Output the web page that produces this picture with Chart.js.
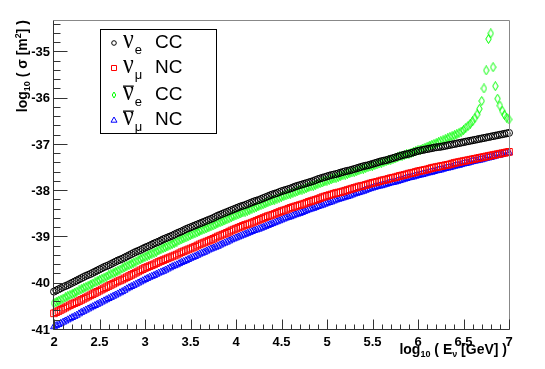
<!DOCTYPE html>
<html>
<head>
<meta charset="utf-8">
<script src="https://cdn.jsdelivr.net/npm/chart.js@4.4.0/dist/chart.umd.min.js"></script>
<style>
  html, body { margin: 0; padding: 0; background: #fff; }
  #wrap { width: 545px; height: 369px; }
</style>
</head>
<body>
<div id="wrap"><canvas id="xsecChart"></canvas></div>
<script>
// log10(E_nu / GeV)
var xVals = [2.000,2.025,2.050,2.075,2.100,2.125,2.150,2.175,2.200,2.225,2.250,2.275,2.300,2.325,2.350,2.375,2.400,2.425,2.450,2.475,
  2.500,2.525,2.550,2.575,2.600,2.625,2.650,2.675,2.700,2.725,2.750,2.775,2.800,2.825,2.850,2.875,2.900,2.925,2.950,2.975,
  3.000,3.025,3.050,3.075,3.100,3.125,3.150,3.175,3.200,3.225,3.250,3.275,3.300,3.325,3.350,3.375,3.400,3.425,3.450,3.475,
  3.500,3.525,3.550,3.575,3.600,3.625,3.650,3.675,3.700,3.725,3.750,3.775,3.800,3.825,3.850,3.875,3.900,3.925,3.950,3.975,
  4.000,4.025,4.050,4.075,4.100,4.125,4.150,4.175,4.200,4.225,4.250,4.275,4.300,4.325,4.350,4.375,4.400,4.425,4.450,4.475,
  4.500,4.525,4.550,4.575,4.600,4.625,4.650,4.675,4.700,4.725,4.750,4.775,4.800,4.825,4.850,4.875,4.900,4.925,4.950,4.975,
  5.000,5.025,5.050,5.075,5.100,5.125,5.150,5.175,5.200,5.225,5.250,5.275,5.300,5.325,5.350,5.375,5.400,5.425,5.450,5.475,
  5.500,5.525,5.550,5.575,5.600,5.625,5.650,5.675,5.700,5.725,5.750,5.775,5.800,5.825,5.850,5.875,5.900,5.925,5.950,5.975,
  6.000,6.025,6.050,6.075,6.100,6.125,6.150,6.175,6.200,6.225,6.250,6.275,6.300,6.325,6.350,6.375,6.400,6.425,6.450,6.475,
  6.500,6.525,6.550,6.575,6.600,6.625,6.650,6.675,6.700,6.725,6.750,6.775,6.800,6.825,6.850,6.875,6.900,6.925,6.950,6.975,
  7.000];

// log10(sigma / m^2) for nu_e CC
var nueCC = [-40.17,-40.145,-40.12,-40.095,-40.07,-40.05,-40.03,-40.005,-39.98,-39.955,-39.93,-39.905,-39.88,-39.855,-39.83,-39.81,-39.79,-39.765,-39.74,-39.715,
  -39.69,-39.665,-39.64,-39.62,-39.60,-39.575,-39.55,-39.525,-39.50,-39.48,-39.46,-39.435,-39.41,-39.385,-39.36,-39.335,-39.31,-39.29,-39.27,-39.245,
  -39.22,-39.20,-39.18,-39.155,-39.13,-39.11,-39.09,-39.065,-39.04,-39.02,-39.00,-38.98,-38.96,-38.935,-38.91,-38.89,-38.87,-38.845,-38.82,-38.80,
  -38.78,-38.76,-38.74,-38.72,-38.70,-38.68,-38.66,-38.64,-38.62,-38.60,-38.58,-38.555,-38.53,-38.51,-38.49,-38.47,-38.45,-38.43,-38.41,-38.39,
  -38.37,-38.35,-38.33,-38.315,-38.30,-38.28,-38.26,-38.24,-38.22,-38.205,-38.19,-38.17,-38.15,-38.13,-38.11,-38.09,-38.07,-38.055,-38.04,-38.02,
  -38.00,-37.985,-37.97,-37.955,-37.94,-37.92,-37.90,-37.885,-37.87,-37.855,-37.84,-37.825,-37.81,-37.795,-37.78,-37.76,-37.74,-37.725,-37.71,-37.695,
  -37.68,-37.665,-37.65,-37.64,-37.63,-37.615,-37.60,-37.585,-37.57,-37.56,-37.55,-37.535,-37.52,-37.505,-37.49,-37.475,-37.46,-37.45,-37.44,-37.425,
  -37.41,-37.395,-37.38,-37.365,-37.35,-37.34,-37.33,-37.315,-37.30,-37.285,-37.27,-37.255,-37.24,-37.225,-37.21,-37.20,-37.19,-37.175,-37.16,-37.145,
  -37.13,-37.12,-37.11,-37.10,-37.09,-37.08,-37.07,-37.06,-37.05,-37.045,-37.04,-37.03,-37.02,-37.01,-37.00,-36.99,-36.98,-36.97,-36.96,-36.95,
  -36.94,-36.93,-36.92,-36.91,-36.90,-36.89,-36.88,-36.87,-36.86,-36.85,-36.84,-36.83,-36.82,-36.81,-36.80,-36.79,-36.78,-36.77,-36.76,-36.75,
  -36.74];

// nu_mu NC
var numuNC = [-40.64,-40.615,-40.59,-40.565,-40.54,-40.515,-40.49,-40.465,-40.44,-40.42,-40.40,-40.375,-40.35,-40.325,-40.30,-40.275,-40.25,-40.225,-40.20,-40.175,
  -40.15,-40.125,-40.10,-40.075,-40.05,-40.025,-40.00,-39.975,-39.95,-39.93,-39.91,-39.885,-39.86,-39.835,-39.81,-39.785,-39.76,-39.735,-39.71,-39.685,
  -39.66,-39.64,-39.62,-39.60,-39.58,-39.555,-39.53,-39.51,-39.49,-39.47,-39.45,-39.43,-39.41,-39.39,-39.37,-39.345,-39.32,-39.30,-39.28,-39.26,
  -39.24,-39.22,-39.20,-39.175,-39.15,-39.13,-39.11,-39.09,-39.07,-39.05,-39.03,-39.005,-38.98,-38.96,-38.94,-38.92,-38.90,-38.875,-38.85,-38.83,
  -38.81,-38.79,-38.77,-38.75,-38.73,-38.715,-38.70,-38.68,-38.66,-38.64,-38.62,-38.60,-38.58,-38.56,-38.54,-38.525,-38.51,-38.49,-38.47,-38.45,
  -38.43,-38.415,-38.40,-38.38,-38.36,-38.345,-38.33,-38.315,-38.30,-38.285,-38.27,-38.25,-38.23,-38.215,-38.20,-38.185,-38.17,-38.15,-38.13,-38.115,
  -38.10,-38.085,-38.07,-38.055,-38.04,-38.03,-38.02,-38.005,-37.99,-37.975,-37.96,-37.945,-37.93,-37.915,-37.90,-37.89,-37.88,-37.865,-37.85,-37.835,
  -37.82,-37.81,-37.80,-37.785,-37.77,-37.76,-37.75,-37.735,-37.72,-37.71,-37.70,-37.685,-37.67,-37.66,-37.65,-37.635,-37.62,-37.61,-37.60,-37.585,
  -37.57,-37.56,-37.55,-37.54,-37.53,-37.515,-37.50,-37.49,-37.48,-37.47,-37.46,-37.45,-37.44,-37.43,-37.42,-37.405,-37.39,-37.38,-37.37,-37.36,
  -37.35,-37.34,-37.33,-37.32,-37.31,-37.30,-37.29,-37.28,-37.27,-37.26,-37.25,-37.24,-37.23,-37.22,-37.21,-37.20,-37.19,-37.18,-37.17,-37.16,
  -37.15];

// anti-nu_e CC (Glashow resonance near 6.8)
var nuebarCC = [-40.42,-40.395,-40.37,-40.345,-40.32,-40.295,-40.27,-40.245,-40.22,-40.195,-40.17,-40.145,-40.12,-40.095,-40.07,-40.045,-40.02,-39.995,-39.97,-39.945,
  -39.92,-39.895,-39.87,-39.845,-39.82,-39.795,-39.77,-39.745,-39.72,-39.695,-39.67,-39.645,-39.62,-39.595,-39.57,-39.545,-39.52,-39.495,-39.47,-39.445,
  -39.42,-39.395,-39.37,-39.35,-39.33,-39.305,-39.28,-39.255,-39.23,-39.21,-39.19,-39.165,-39.14,-39.115,-39.09,-39.065,-39.04,-39.02,-39.00,-38.975,
  -38.95,-38.93,-38.91,-38.885,-38.86,-38.84,-38.82,-38.80,-38.78,-38.76,-38.74,-38.715,-38.69,-38.67,-38.65,-38.63,-38.61,-38.585,-38.56,-38.54,
  -38.52,-38.50,-38.48,-38.46,-38.44,-38.42,-38.40,-38.38,-38.36,-38.34,-38.32,-38.30,-38.28,-38.26,-38.24,-38.22,-38.20,-38.18,-38.16,-38.14,
  -38.12,-38.105,-38.09,-38.07,-38.05,-38.035,-38.02,-38.00,-37.98,-37.965,-37.95,-37.93,-37.91,-37.895,-37.88,-37.86,-37.84,-37.825,-37.81,-37.79,
  -37.77,-37.755,-37.74,-37.725,-37.71,-37.69,-37.67,-37.655,-37.64,-37.625,-37.61,-37.595,-37.58,-37.565,-37.55,-37.53,-37.51,-37.495,-37.48,-37.465,
  -37.45,-37.435,-37.42,-37.40,-37.38,-37.365,-37.35,-37.335,-37.32,-37.305,-37.29,-37.27,-37.25,-37.235,-37.22,-37.205,-37.19,-37.17,-37.15,-37.135,
  -37.12,-37.10,-37.08,-37.06,-37.04,-37.02,-37.00,-36.98,-36.96,-36.94,-36.92,-36.90,-36.88,-36.86,-36.83,-36.81,-36.79,-36.77,-36.74,-36.71,
  -36.68,-36.63,-36.59,-36.54,-36.49,-36.42,-36.34,-36.22,-36.05,-35.78,-35.39,-34.71,-34.59,-35.32,-35.73,-36.00,-36.15,-36.26,-36.35,-36.41,
  -36.45];

// anti-nu_mu NC
var numubarNC = [-40.93,-40.905,-40.88,-40.855,-40.83,-40.805,-40.78,-40.755,-40.73,-40.705,-40.68,-40.65,-40.62,-40.595,-40.57,-40.545,-40.52,-40.495,-40.47,-40.445,
  -40.42,-40.395,-40.37,-40.345,-40.32,-40.295,-40.27,-40.245,-40.22,-40.195,-40.17,-40.14,-40.11,-40.085,-40.06,-40.035,-40.01,-39.985,-39.96,-39.935,
  -39.91,-39.885,-39.86,-39.84,-39.82,-39.795,-39.77,-39.75,-39.73,-39.705,-39.68,-39.655,-39.63,-39.61,-39.59,-39.565,-39.54,-39.52,-39.50,-39.475,
  -39.45,-39.43,-39.41,-39.385,-39.36,-39.34,-39.32,-39.295,-39.27,-39.25,-39.23,-39.21,-39.19,-39.165,-39.14,-39.12,-39.10,-39.075,-39.05,-39.03,
  -39.01,-38.99,-38.97,-38.95,-38.93,-38.91,-38.89,-38.87,-38.85,-38.835,-38.82,-38.80,-38.78,-38.76,-38.74,-38.72,-38.70,-38.68,-38.66,-38.64,
  -38.62,-38.60,-38.58,-38.565,-38.55,-38.53,-38.51,-38.495,-38.48,-38.46,-38.44,-38.42,-38.40,-38.385,-38.37,-38.35,-38.33,-38.315,-38.30,-38.28,
  -38.26,-38.245,-38.23,-38.21,-38.19,-38.175,-38.16,-38.145,-38.13,-38.115,-38.10,-38.08,-38.06,-38.045,-38.03,-38.015,-38.00,-37.98,-37.96,-37.945,
  -37.93,-37.915,-37.90,-37.89,-37.88,-37.865,-37.85,-37.835,-37.82,-37.81,-37.80,-37.785,-37.77,-37.755,-37.74,-37.725,-37.71,-37.70,-37.69,-37.675,
  -37.66,-37.65,-37.64,-37.625,-37.61,-37.60,-37.59,-37.575,-37.56,-37.55,-37.54,-37.525,-37.51,-37.50,-37.49,-37.475,-37.46,-37.45,-37.44,-37.425,
  -37.41,-37.40,-37.39,-37.375,-37.36,-37.35,-37.34,-37.33,-37.32,-37.305,-37.29,-37.28,-37.27,-37.255,-37.24,-37.23,-37.22,-37.205,-37.19,-37.18,
  -37.17];

var xTicks = [2, 2.5, 3, 3.5, 4, 4.5, 5, 5.5, 6, 6.5, 7];
var xTickLabels = ['2', '2.5', '3', '3.5', '4', '4.5', '5', '5.5', '6', '6.5', '7'];
var yTicks = [-41, -40, -39, -38, -37, -36, -35];
var yTickLabels = ['-41', '-40', '-39', '-38', '-37', '-36', '-35'];
var seriesLabels = ['νe CC', 'νμ NC', 'ν̄e CC', 'ν̄μ NC'];
var legendSub = ['e', 'μ', 'e', 'μ'];
var legendBar = [false, false, true, true];
var legendKind = ['CC', 'NC', 'CC', 'NC'];

// ROOT style open diamond (marker 27)
function diamondImg(color) {
  var c = document.createElement('canvas');
  c.width = 7; c.height = 10;
  var g = c.getContext('2d');
  g.strokeStyle = color; g.lineWidth = 1;
  g.beginPath();
  g.moveTo(3.5, 0.5); g.lineTo(6.2, 5); g.lineTo(3.5, 9.5); g.lineTo(0.8, 5);
  g.closePath(); g.stroke();
  return c;
}

function pts(xs, ys) {
  return xs.map(function(x, i) { return { x: x, y: ys[i] }; });
}

var sansB = 'Liberation Sans, Arial, sans-serif';

function drawRich(ctx, parts, x, y) {
  parts.forEach(function(p) {
    ctx.font = p.font;
    ctx.fillText(p.t, x, y + (p.dy || 0));
    x += ctx.measureText(p.t).width;
  });
}
function richWidth(ctx, parts) {
  var w = 0;
  parts.forEach(function(p) { ctx.font = p.font; w += ctx.measureText(p.t).width; });
  return w;
}

function legendMarker(ctx, i, x, y) {
  ctx.lineWidth = 1;
  ctx.beginPath();
  if (i === 0) {
    ctx.strokeStyle = '#000';
    ctx.arc(x, y, 2.3, 0, Math.PI * 2);
  } else if (i === 1) {
    ctx.strokeStyle = '#ff0000';
    ctx.rect(x - 2.5, y - 2.5, 5, 5);
  } else if (i === 2) {
    ctx.strokeStyle = '#00ff00';
    ctx.moveTo(x, y - 3); ctx.lineTo(x + 1.8, y); ctx.lineTo(x, y + 3); ctx.lineTo(x - 1.8, y); ctx.closePath();
  } else {
    ctx.strokeStyle = '#0000ff';
    ctx.moveTo(x, y - 3); ctx.lineTo(x + 3, y + 2.2); ctx.lineTo(x - 3, y + 2.2); ctx.closePath();
  }
  ctx.stroke();
}

var rootDecor = {
  id: 'rootDecor',
  afterDraw: function(chart) {
    var ctx = chart.ctx, a = chart.chartArea, xs = chart.scales.x, ys = chart.scales.y;
    var L = Math.round(a.left) - 0.5, R = Math.round(a.right) + 0.5;
    var T = Math.round(a.top) + 0.5, B = Math.round(a.bottom) - 0.5;
    ctx.save();
    ctx.lineWidth = 1;

    // frame
    ctx.strokeStyle = '#888';
    ctx.beginPath(); ctx.moveTo(L, T); ctx.lineTo(R, T); ctx.lineTo(R, B); ctx.stroke();
    ctx.strokeStyle = '#333';
    ctx.beginPath(); ctx.moveTo(L, T); ctx.lineTo(L, B); ctx.lineTo(R, B); ctx.stroke();

    // ticks pointing into the frame
    ctx.beginPath();
    for (var i = 0; i <= 50; i++) {
      var px = Math.round(xs.getPixelForValue(2 + i * 0.1)) + 0.5;
      ctx.moveTo(px, B); ctx.lineTo(px, B - (i % 5 === 0 ? 10 : 5));
    }
    for (var j = 0; j <= 33; j++) {
      var py = Math.round(ys.getPixelForValue(-41 + j * 0.2)) - 0.5;
      ctx.moveTo(L, py); ctx.lineTo(L + (j % 5 === 0 ? 14 : 7), py);
    }
    ctx.stroke();

    // axis titles
    ctx.fillStyle = '#000';
    ctx.textAlign = 'left';
    ctx.textBaseline = 'alphabetic';
    var big = 'bold 14px ' + sansB, small = 'bold 9px ' + sansB;
    var xt = [
      { t: 'log', font: big }, { t: '10', font: small, dy: 3 },
      { t: ' ( E', font: big }, { t: 'ν', font: small, dy: 3 },
      { t: ' [GeV] )', font: big }
    ];
    drawRich(ctx, xt, 507 - richWidth(ctx, xt), 354);

    var yt = [
      { t: 'log', font: big }, { t: '10', font: small, dy: 3 },
      { t: ' ( σ [m', font: big }, { t: '2', font: small, dy: -6 },
      { t: '] )', font: big }
    ];
    ctx.save();
    ctx.translate(27, 20);
    ctx.rotate(-Math.PI / 2);
    drawRich(ctx, yt, -richWidth(ctx, yt), 0);
    ctx.restore();

    // legend box
    ctx.fillStyle = '#fff';
    ctx.fillRect(100, 29, 117, 104);
    ctx.strokeStyle = '#000';
    ctx.strokeRect(100.5, 29.5, 116, 104);
    var rows = [43, 68, 95, 120];
    seriesLabels.forEach(function(lbl, k) {
      var y = rows[k], base = y + 4.5;
      legendMarker(ctx, k, 114, y);
      ctx.fillStyle = '#000';
      ctx.font = '28px Liberation Serif, serif';
      var nw = ctx.measureText('ν').width * 0.85;
      ctx.save();
      ctx.translate(123, base);
      ctx.scale(0.85, 1);
      ctx.fillText('ν', 0, 0);
      ctx.restore();
      if (legendBar[k]) {
        ctx.fillRect(123, base - 14, nw, 1.3);
      }
      ctx.font = '13px ' + sansB;
      ctx.fillText(legendSub[k], 123 + nw + 1, base + 6);
      ctx.font = '19px ' + sansB;
      ctx.fillText(legendKind[k], 155, base);
    });
    ctx.restore();
  }
};

var ctx = document.getElementById('xsecChart').getContext('2d');
var xsecChart = new Chart(ctx, {
  type: 'scatter',
  data: {
    datasets: [{
      label: seriesLabels[0],
      data: pts(xVals, nueCC),
      pointStyle: 'circle',
      radius: 3.5,
      borderColor: '#000',
      backgroundColor: 'rgba(0,0,0,0)',
      borderWidth: 1,
      order: 0
    },
    {
      label: seriesLabels[1],
      data: pts(xVals, numuNC),
      pointStyle: 'rect',
      radius: 4.7,
      borderColor: '#ff0000',
      backgroundColor: 'rgba(0,0,0,0)',
      borderWidth: 1,
      order: 1
    },
    {
      label: seriesLabels[2],
      data: pts(xVals, nuebarCC),
      pointStyle: diamondImg('#00ff00'),
      radius: 3,
      borderColor: '#00ff00',
      backgroundColor: 'rgba(0,0,0,0)',
      order: 2
    },
    {
      label: seriesLabels[3],
      data: pts(xVals, numubarNC),
      pointStyle: 'triangle',
      radius: 4,
      borderColor: '#0000ff',
      backgroundColor: 'rgba(0,0,0,0)',
      borderWidth: 1,
      order: 3
    }]
  },
  options: {
    responsive: true,
    maintainAspectRatio: false,
    animation: false,
    devicePixelRatio: 1,
    clip: false,
    layout: { padding: { top: 20, right: 36, left: 0, bottom: 0 } },
    plugins: {
      legend: { display: false },
      tooltip: { enabled: false }
    },
    scales: {
      x: {
        type: 'linear',
        min: 2,
        max: 7,
        afterBuildTicks: function(s) { s.ticks = xTicks.map(function(v) { return { value: v }; }); },
        afterFit: function(s) { s.height = 39; },
        grid: { display: false, drawTicks: false },
        border: { display: false },
        ticks: {
          autoSkip: false,
          maxRotation: 0,
          padding: 5,
          color: '#000',
          font: { family: sansB, size: 13, weight: 'bold' },
          callback: function(v, i) { return xTickLabels[i]; }
        }
      },
      y: {
        type: 'linear',
        min: -41,
        max: -34.3,
        afterBuildTicks: function(s) { s.ticks = yTicks.map(function(v) { return { value: v }; }); },
        afterFit: function(s) { s.width = 54; },
        grid: { display: false, drawTicks: false },
        border: { display: false },
        ticks: {
          autoSkip: false,
          padding: 4,
          color: '#000',
          font: { family: sansB, size: 13, weight: 'bold' },
          callback: function(v, i) { return yTickLabels[i]; }
        }
      }
    }
  },
  plugins: [rootDecor]
});
</script>
</body>
</html>
